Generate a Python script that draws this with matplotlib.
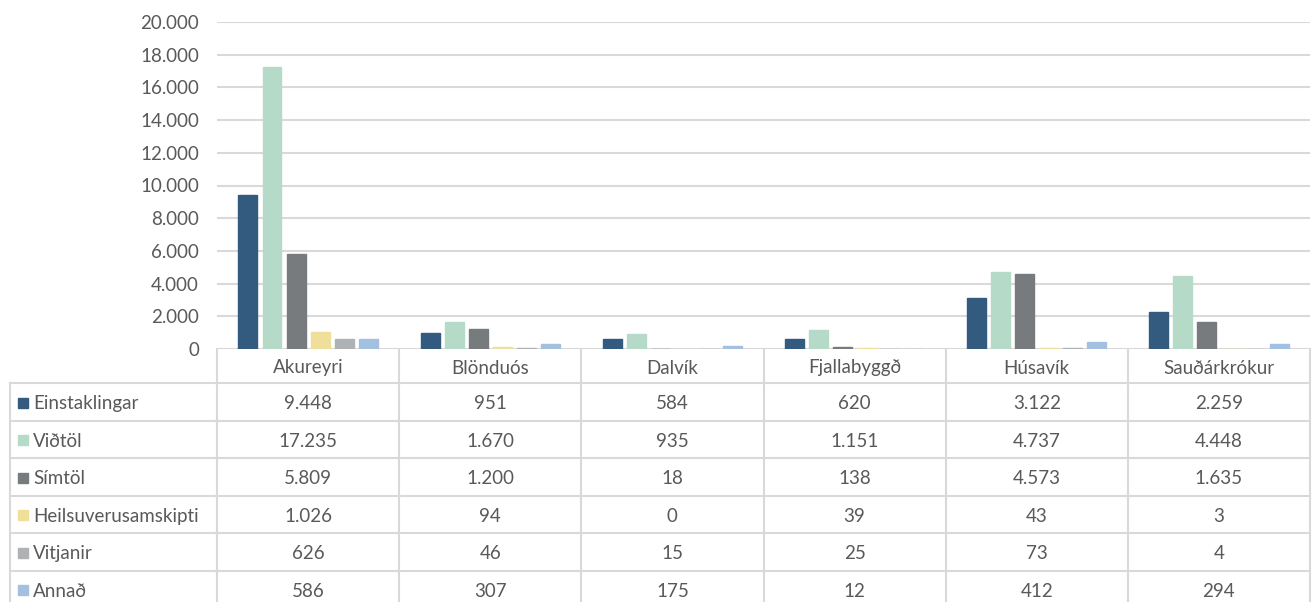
import numpy as np
import matplotlib.pyplot as plt
from matplotlib.transforms import blended_transform_factory

plt.rcParams['font.family'] = ['Lato', 'DejaVu Sans']

places = ["Akureyri", "Blönduós", "Dalvík", "Fjallabyggð", "Húsavík", "Sauðárkrókur"]
series = ["Einstaklingar", "Viðtöl", "Símtöl", "Heilsuverusamskipti", "Vitjanir", "Annað"]
einstaklingar = [9448, 951, 584, 620, 3122, 2259]
vidtol = [17235, 1670, 935, 1151, 4737, 4448]
simtol = [5809, 1200, 18, 138, 4573, 1635]
heilsuvera = [1026, 94, 0, 39, 43, 3]
vitjanir = [626, 46, 15, 25, 73, 4]
annad = [586, 307, 175, 12, 412, 294]
colors = ["#335a7f", "#b5dac8", "#777b7e", "#f0df9a", "#aeb2b5", "#a3c0e0"]

values = [einstaklingar, vidtol, simtol, heilsuvera, vitjanir, annad]

W, H = 1316, 602
GRID = "#d9d9d9"
TXT = "#595959"
FS = 13.5


def fmt(v):
    return f"{v:,}".replace(",", ".")


fig = plt.figure(figsize=(W / 100, H / 100), dpi=100)
ax = fig.add_axes([217 / W, (H - 349) / H, (1310 - 217) / W, (349 - 22) / H])

x = np.arange(len(places))
pitch = 0.132
width = 0.104
for i, (name, vals) in enumerate(zip(series, values)):
    edges = [colors[i] if v > 0 else "none" for v in vals]
    ax.bar(x + (i - 2.5) * pitch, vals, width, color=colors[i],
           edgecolor=edges, linewidth=1.0, zorder=3)

ax.set_xlim(-0.5, len(places) - 0.5)
ax.set_ylim(0, 20000)
ax.set_yticks(np.arange(0, 20001, 2000))
ax.set_yticklabels([fmt(v) for v in range(0, 20001, 2000)], fontsize=FS, color=TXT)
ax.tick_params(axis="y", length=0, pad=13)
ax.set_xticks([])
ax.grid(axis="y", color=GRID, linewidth=1.5, zorder=0)
for s in ax.spines.values():
    s.set_visible(False)

# data table below the chart
ov = fig.add_axes([0, 0, 1, 1], zorder=-1)
ov.set_xlim(0, W)
ov.set_ylim(H, 0)
ov.axis("off")
tr = blended_transform_factory(ax.transData, ov.transData)

top = 349
head = 383
rowh = 37.5
bottom = H + 10
col_edges = np.arange(len(places) + 1) - 0.5
for e in col_edges:
    ov.plot([e, e], [top, bottom], color=GRID, lw=1.5, transform=tr, clip_on=False)
ov.plot([10, 10], [head, bottom], color=GRID, lw=1.5)
for r in range(len(series) + 1):
    y = head + r * rowh
    ov.plot([10, 217], [y, y], color=GRID, lw=1.5)
    ov.plot([-0.5, len(places) - 0.5], [y, y], color=GRID, lw=1.5,
            transform=tr, clip_on=False)

for j, p in enumerate(places):
    ov.text(j, (top + head) / 2 + 2, p, ha="center", va="center",
            fontsize=FS, color=TXT, transform=tr)

for i, (name, vals) in enumerate(zip(series, values)):
    yc = head + (i + 0.5) * rowh + 2
    ov.add_patch(plt.Rectangle((18, yc - 6), 10, 10, color=colors[i]))
    ov.text(33, yc, name, ha="left", va="center", fontsize=FS, color=TXT)
    for j, v in enumerate(vals):
        ov.text(j, yc, fmt(v), ha="center", va="center", fontsize=FS,
                color=TXT, transform=tr)

fig.savefig("out.png", dpi=100)
